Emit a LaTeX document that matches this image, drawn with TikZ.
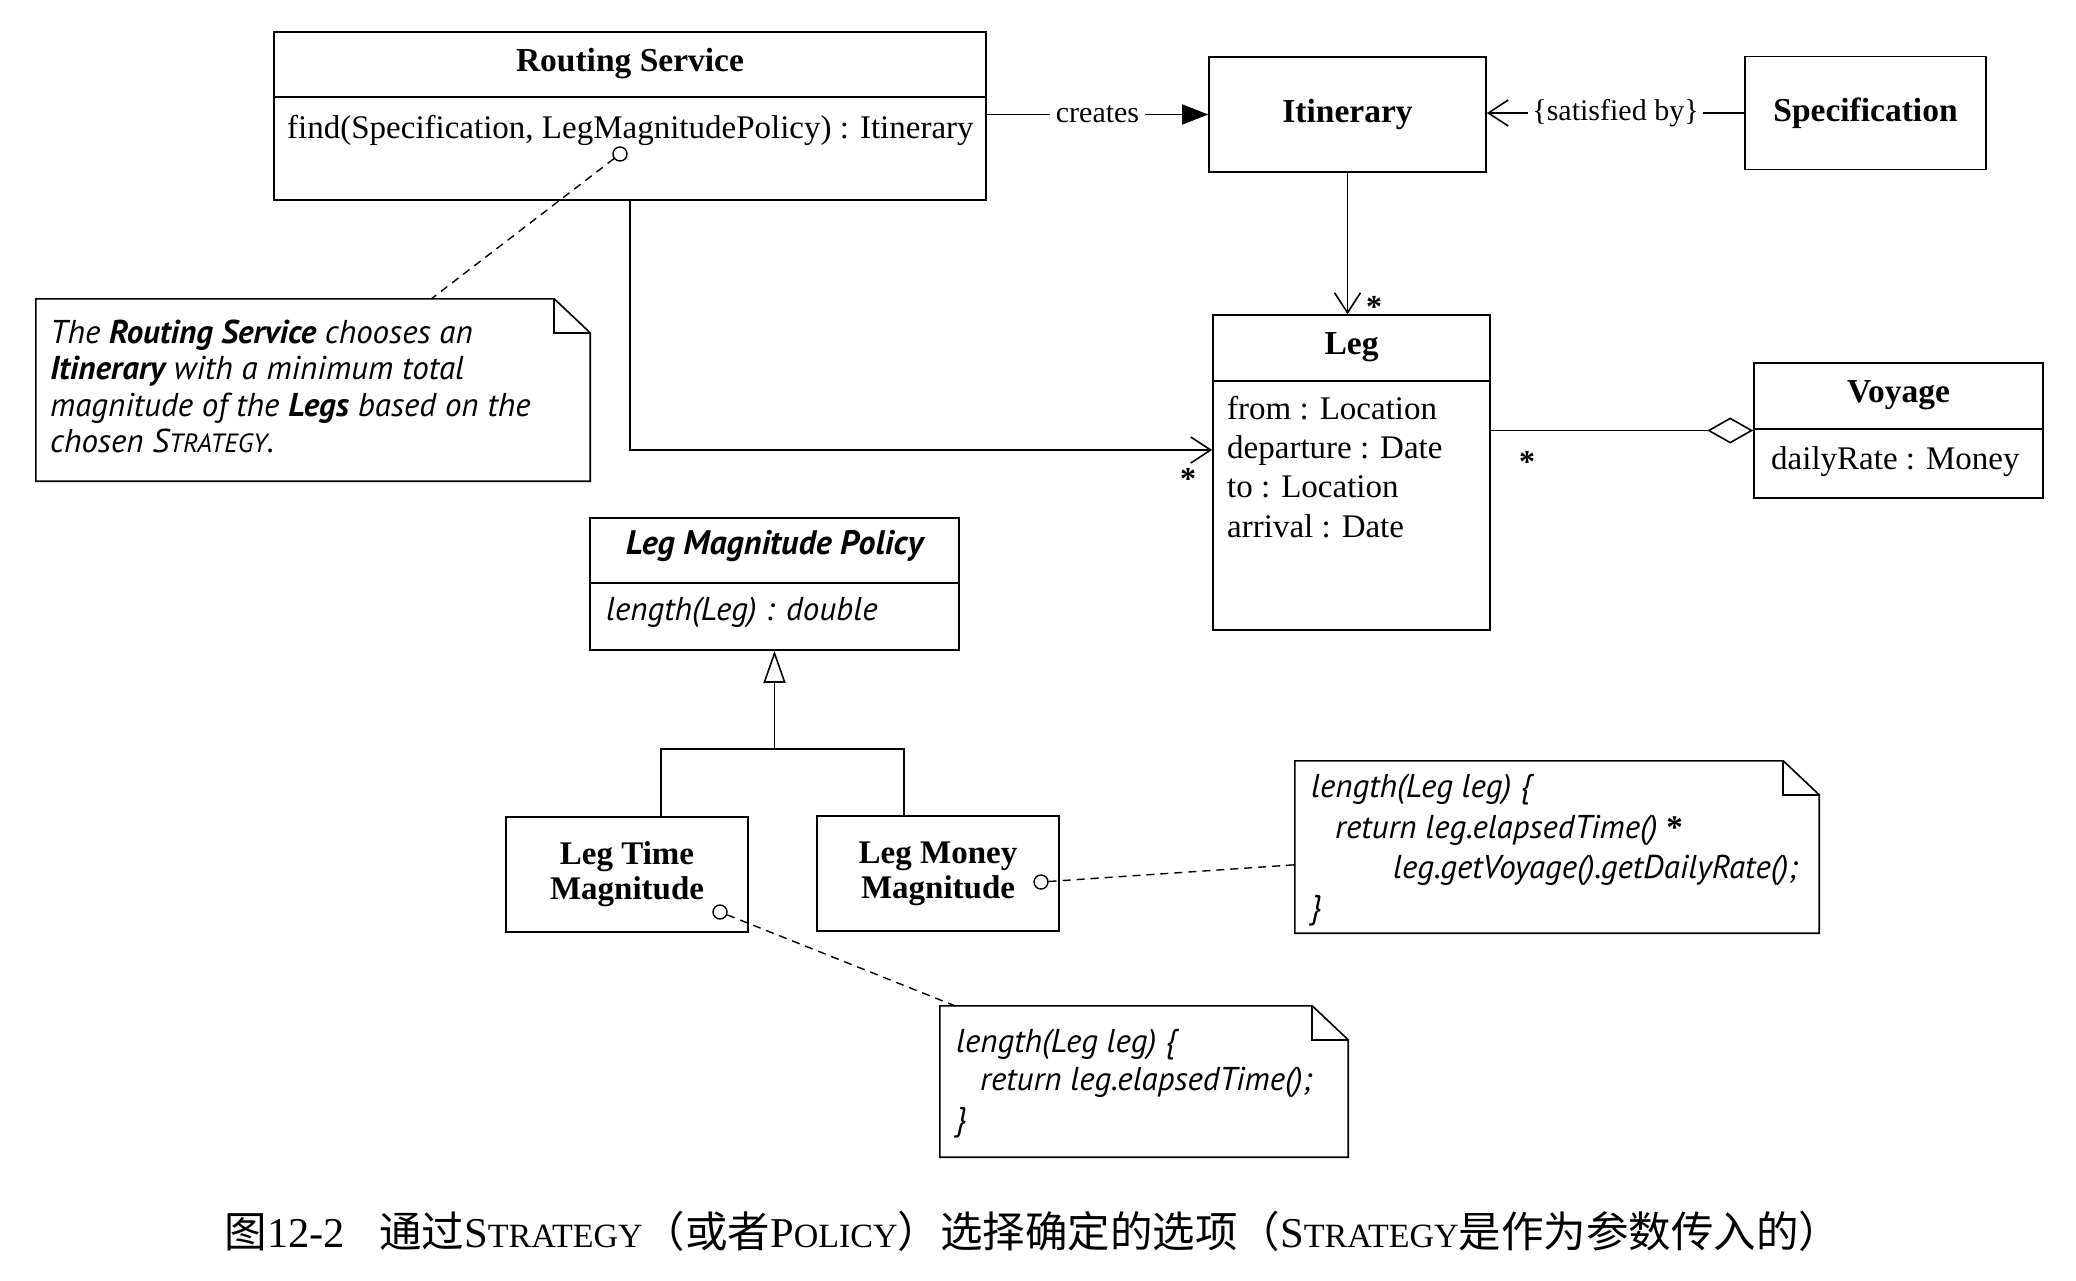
\documentclass[tikz,border=0pt]{standalone}
\usepackage{fontspec}
\usepackage{graphicx}
\setmainfont{Liberation Serif}
\newfontfamily\notefont{PT Sans}
\newfontfamily\cjk{Noto Sans CJK SC}
\usetikzlibrary{arrows.meta,calc}
\newcommand\fsc[1]{\scalebox{0.8}{#1}}
\newcommand\dogear[1]{%
  \draw[ln] (#1.north west) -- ($(#1.north east)+(-36,0)$) -- ($(#1.north east)+(0,34)$) -- (#1.south east) -- (#1.south west) -- cycle;
  \draw[ln] ($(#1.north east)+(-36,0)$) -- ($(#1.north east)+(-36,34)$) -- ($(#1.north east)+(0,34)$);}
\begin{document}
\begin{tikzpicture}[x=1pt,y=-1pt,
  ln/.style={line width=1.6pt},
  cls/.style={draw, line width=1.6pt, inner sep=0pt},
  ttl/.style={inner sep=0pt, font=\fontsize{33.5}{38}\selectfont\bfseries, text height=22pt, text depth=7pt},
  txt/.style={inner sep=0pt, font=\fontsize{33}{38}\selectfont, text height=22pt, text depth=7pt},
  ntxt/.style={inner sep=0pt, anchor=west, font=\notefont\fontsize{33}{36}\selectfont\itshape, text height=22pt, text depth=7pt},
  star/.style={inner sep=0pt, font=\fontsize{32}{38}\selectfont\bfseries},
  dot/.style={circle, draw, line width=1.4pt, fill=white, minimum size=14pt, inner sep=0pt},
  dsh/.style={line width=1.4pt, dash pattern=on 8pt off 6pt},
  noteframe/.style={inner sep=0pt}
]
\useasboundingbox (0,0) rectangle (2076,1280);

% Routing Service
\node[cls, minimum width=712pt, minimum height=168pt] (rs) at (630,116) {};
\draw[ln] (274,97) -- (986,97);
\node[ttl] (rst) at (630,64) {Routing Service};
\node[txt, anchor=west] (rsm) at (287,131) {find(Specification, LegMagnitudePolicy) : Itinerary};

% Itinerary, Specification
\node[cls, minimum width=277pt, minimum height=115pt, font=\fontsize{33.5}{38}\selectfont\bfseries] (itin) at (1347.5,114.5) {Itinerary};
\node[cls, minimum width=241pt, minimum height=113pt, font=\fontsize{33.5}{38}\selectfont\bfseries] (spec) at (1865.5,113) {Specification};

% Leg
\node[cls, minimum width=277pt, minimum height=315pt] (leg) at (1351.5,472.5) {};
\draw[ln] (1213,381) -- (1490,381);
\node[ttl] (legt) at (1351.5,347) {Leg};
\node[txt, anchor=west] (lega) at (1227,412) {from : Location};
\node[txt, anchor=west] (legb) at (1227,451) {departure : Date};
\node[txt, anchor=west] (legc) at (1227,490) {to : Location};
\node[txt, anchor=west] (legd) at (1227,530) {arrival : Date};

% Voyage
\node[cls, minimum width=289pt, minimum height=135pt] (voy) at (1898.5,430.5) {};
\draw[ln] (1754,429) -- (2043,429);
\node[ttl] (voyt) at (1898.5,395) {Voyage};
\node[txt, anchor=west] (voya) at (1771,462) {dailyRate : Money};

% Leg Magnitude Policy
\node[cls, minimum width=369pt, minimum height=132pt] (lmp) at (774.5,584) {};
\draw[ln] (590,583) -- (959,583);
\node[ttl, font=\notefont\fontsize{34}{38}\selectfont\bfseries\itshape] (lmpt) at (774.5,547) {Leg Magnitude Policy};
\node[ntxt] (lmpm) at (606,613) {length(Leg) : double};

% subclasses
\node[cls, minimum width=242pt, minimum height=115pt, align=center, font=\fontsize{33}{35}\selectfont\bfseries] (ltm) at (627,874.5) {Leg Time\\Magnitude};
\node[cls, minimum width=242pt, minimum height=115pt, align=center, font=\fontsize{33}{35}\selectfont\bfseries] (lmm) at (938,873.5) {Leg Money\\Magnitude};

% notes
\node[noteframe, minimum width=554pt, minimum height=182pt] (n1) at (313,390) {};
\dogear{n1}
\node[ntxt] (n1a) at (50,336) {The \textbf{Routing Service} chooses an};
\node[ntxt] (n1b) at (50,372) {\textbf{Itinerary} with a minimum total};
\node[ntxt] (n1c) at (50,409) {magnitude of the \textbf{Legs} based on the};
\node[ntxt] (n1d) at (50,445) {chosen S\fsc{TRATEGY}.};

\node[noteframe, minimum width=524pt, minimum height=172pt] (n2) at (1557,847) {};
\dogear{n2}
\node[ntxt] (n2a) at (1311,790) {length(Leg leg) \{};
\node[ntxt] (n2b) at (1335,831) {return leg.elapsedTime() {\rmfamily\upshape\bfseries *}};
\node[ntxt] (n2c) at (1393,871) {leg.getVoyage().getDailyRate();};
\node[ntxt] (n2d) at (1311,911) {\}};

\node[noteframe, minimum width=408pt, minimum height=151pt] (n3) at (1144,1081.5) {};
\dogear{n3}
\node[ntxt] (n3a) at (956,1045) {length(Leg leg) \{};
\node[ntxt] (n3b) at (980,1083) {return leg.elapsedTime();};
\node[ntxt] (n3c) at (956,1123) {\}};

% note anchors
\node[dot] (c1) at (620,154) {};
\node[dot] (c2) at (1041,882) {};
\node[dot] (c3) at (720,912) {};
\draw[dsh] (c1) -- (n1);
\draw[dsh] (c2) -- (n2);
\draw[dsh] (c3) -- (n3);

% connectors
\draw[ln, -{Triangle[length=26pt,width=20pt]}] (rs.east |- itin.west) -- node[fill=white, inner sep=6pt, font=\fontsize{30}{36}\selectfont] (crl) {creates} (itin.west);
\draw[ln, -{Straight Barb[length=20pt,width=26pt,line width=1.6pt]}] (spec.west) -- node[fill=white, inner sep=4pt, font=\fontsize{30}{36}\selectfont] (sbl) {\{satisfied by\}} (spec.west -| itin.east);
\draw[ln, -{Straight Barb[length=20pt,width=26pt,line width=1.6pt]}] (itin.south) -- (itin.south |- leg.north);
\draw[ln, -{Straight Barb[length=20pt,width=26pt,line width=1.6pt]}] (rs.south) |- ([yshift=22.5pt]leg.west);
\draw[ln, -{Diamond[open,length=46pt,width=26pt,line width=1.6pt]}] (leg.east |- voy.west) -- (voy.west);

\coordinate (gj) at (774.5,749);
\draw[ln, -{Triangle[open,length=32pt,width=22pt,line width=1.6pt]}] (gj) -- (lmp.south);
\draw[ln] ([xshift=34pt]ltm.north) |- (gj) -| ([xshift=-34pt]lmm.north);

% multiplicities
\node[star] (s1) at (1374,307) {*};
\node[star] (s2) at (1527,462) {*};
\node[star] (s3) at (1188,479) {*};

% caption
\node[inner sep=0pt, font=\fontsize{42.5}{48}\selectfont] (cap) at (1033,1231) {{\cjk 图}12-2\hspace{34pt}{\cjk 通过}S\fsc{TRATEGY}{\cjk （或者}P\fsc{OLICY}{\cjk ）选择确定的选项（}S\fsc{TRATEGY}{\cjk 是作为参数传入的）}};
\end{tikzpicture}
\end{document}
